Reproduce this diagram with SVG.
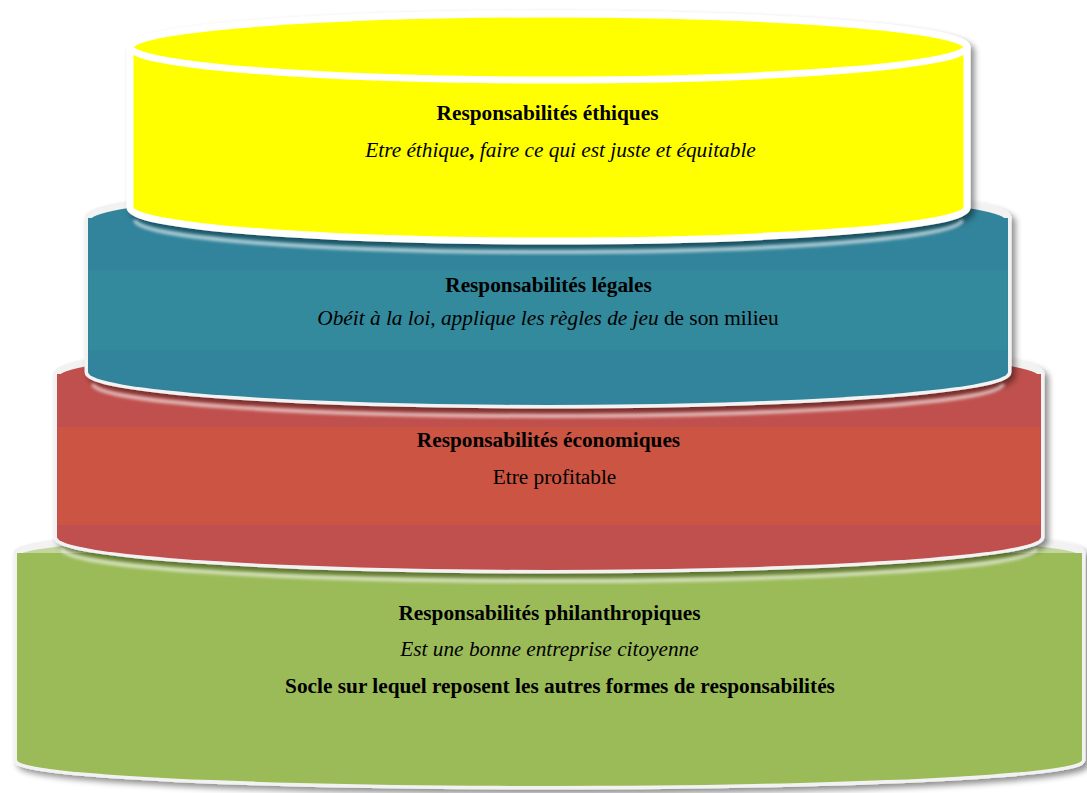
<svg xmlns="http://www.w3.org/2000/svg" width="1087" height="793" viewBox="0 0 1087 793">
<defs>
<filter id="sh" x="-5%" y="-10%" width="110%" height="125%">
<feGaussianBlur in="SourceAlpha" stdDeviation="3"/>
<feOffset dx="4" dy="4" result="b"/>
<feComponentTransfer><feFuncA type="linear" slope="0.45"/></feComponentTransfer>
<feMerge><feMergeNode/><feMergeNode in="SourceGraphic"/></feMerge>
</filter>
<filter id="blur"><feGaussianBlur stdDeviation="1.5"/></filter>
</defs>
<style>
.edge{stroke:#F2F2F2;stroke-width:7;stroke-linejoin:round}
.t{font-family:"Liberation Serif","Times New Roman",serif;font-size:21.3px;fill:#000;text-anchor:middle}
.b{font-weight:bold}
.i{font-style:italic}
.refl{fill:none;stroke:#ffffff;stroke-width:4;opacity:0.6;filter:url(#blur)}
</style>
<rect width="1087" height="793" fill="#ffffff"/>

<g id="philanthropiques">
<g filter="url(#sh)">
<path class="edge" d="M17,553 L17,760 A532.5,26 0 0 0 1082,760 L1082,553 Z" fill="#9BBB59"/>
<ellipse class="edge" cx="549.5" cy="553" rx="532.5" ry="26" fill="#C3D69B"/>
</g>
<path d="M17,553 L17,760 A532.5,26 0 0 0 1082,760 L1082,553 Z" fill="#9BBB59"/>
<text class="t b" x="549.5" y="620">Responsabilités philanthropiques</text>
<text class="t i" x="549.5" y="656">Est une bonne entreprise citoyenne</text>
<text class="t b" x="560" y="693">Socle sur lequel reposent les autres formes de responsabilités</text>
</g>

<g id="economiques">
<g filter="url(#sh)">
<path class="edge" d="M57,374 L57,537 A492,33 0 0 0 1041,537 L1041,374 Z" fill="#C0504D"/>
<ellipse class="edge" cx="549" cy="374" rx="492" ry="33" fill="#C0504D"/>
</g>
<path d="M57,374 L57,537 A492,33 0 0 0 1041,537 L1041,374 Z" fill="#C0504D"/>
<rect x="58" y="427" width="982" height="98" fill="#CB5442"/>
<path class="refl" d="M62,549 A487,32 0 0 0 1036,549"/>
<text class="t b" x="548.5" y="447">Responsabilités économiques</text>
<text class="t" x="554.5" y="484">Etre profitable</text>
</g>

<g id="legales">
<g filter="url(#sh)">
<path class="edge" d="M88,218 L88,372 A460,33 0 0 0 1008,372 L1008,218 Z" fill="#31849B"/>
<ellipse class="edge" cx="548" cy="218" rx="460" ry="33" fill="#31849B"/>
</g>
<path d="M88,218 L88,372 A460,33 0 0 0 1008,372 L1008,218 Z" fill="#31849B"/>
<rect x="89" y="270" width="918" height="80" fill="#338A9C"/>
<path class="refl" d="M93,384 A455,32 0 0 0 1003,384"/>
<text class="t b" x="548.5" y="292">Responsabilités légales</text>
<text class="t" x="548" y="325"><tspan class="i">Obéit à la loi, applique les règles de jeu</tspan> de son milieu</text>
</g>

<g id="ethiques">
<g filter="url(#sh)">
<path d="M130,47 L130,208 A418.5,33 0 0 0 967,208 L967,47 Z" fill="#FFFF00" stroke="#ffffff" stroke-width="7" stroke-linejoin="round"/>
<ellipse cx="548.5" cy="47" rx="418.5" ry="33" fill="#FFFF00" stroke="#ffffff" stroke-width="7"/>
</g>
<path class="refl" d="M135,220 A413,32 0 0 0 962,220"/>
<text class="t b" x="547.5" y="120">Responsabilités éthiques</text>
<text class="t i" x="560.5" y="157">Etre éthique<tspan style="font-style:normal;font-weight:bold">,</tspan> faire ce qui est juste et équitable</text>
</g>
</svg>
